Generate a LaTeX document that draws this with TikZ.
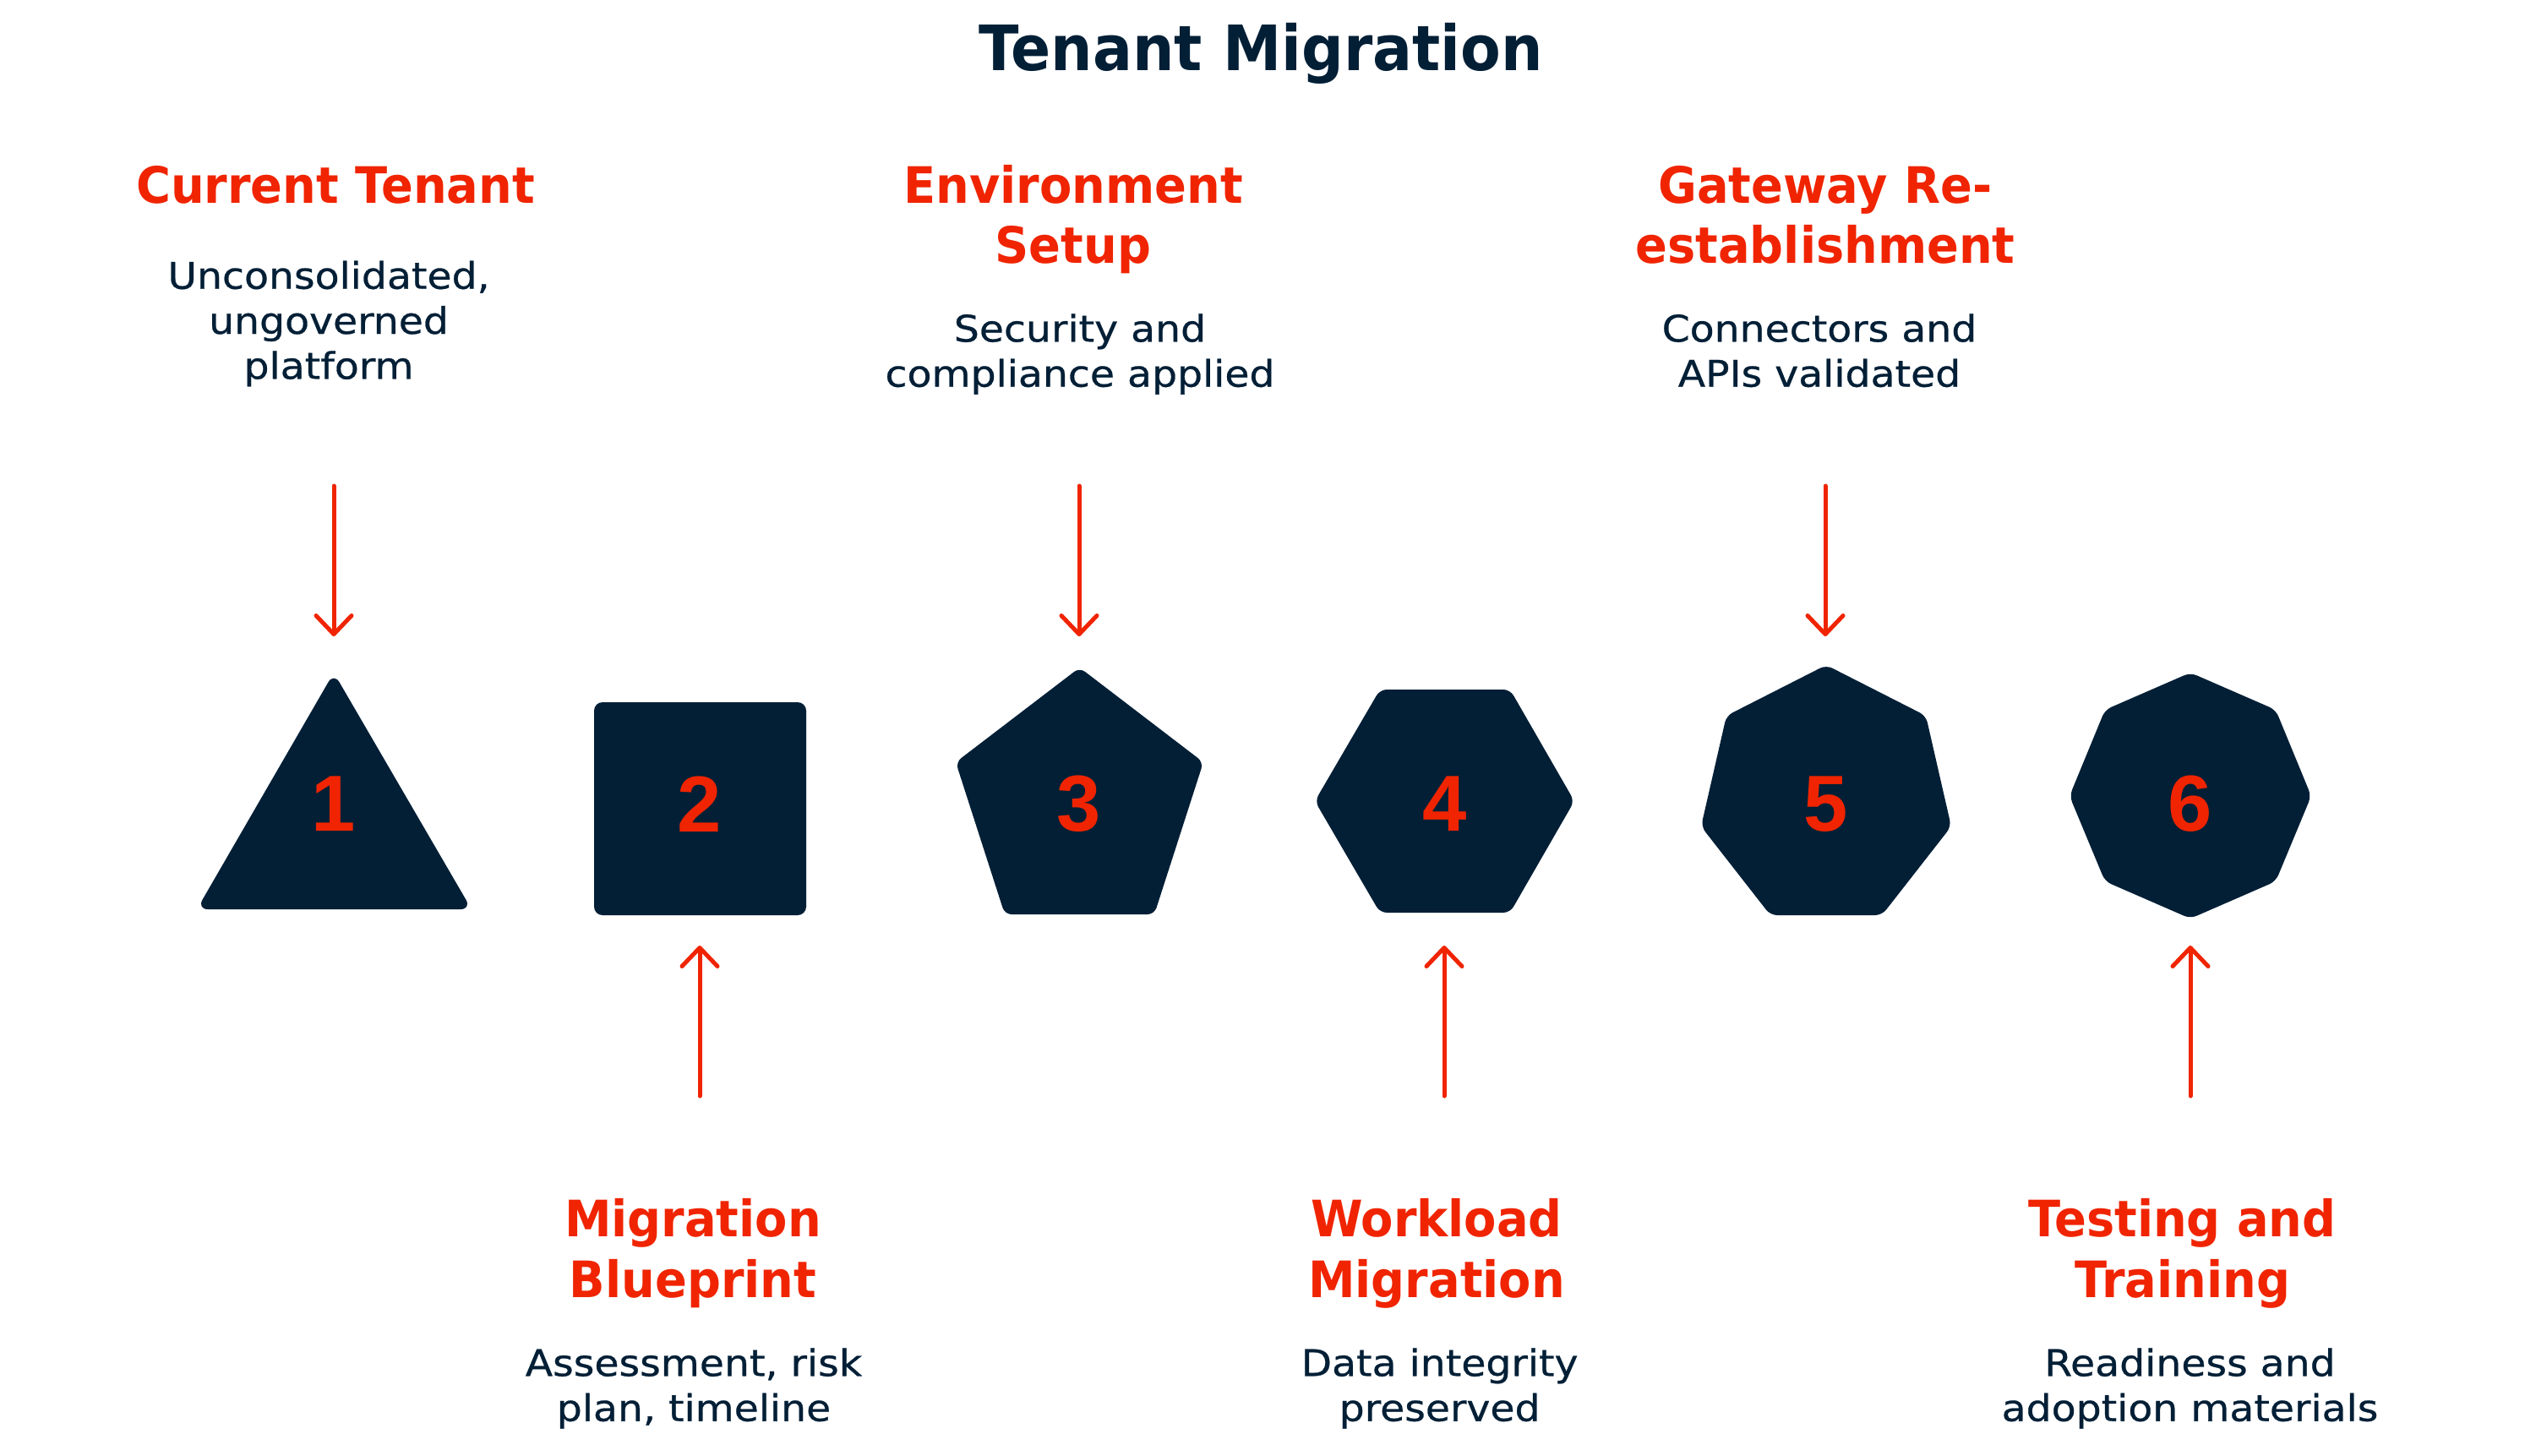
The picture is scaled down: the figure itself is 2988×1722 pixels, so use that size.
\documentclass[tikz,border=0pt]{standalone}
\usepackage{fontspec}
\setmainfont{DejaVu Sans}
\newfontfamily\headf{DejaVu Sans}[FakeStretch=0.94]
\newfontfamily\descf{DejaVu Sans}[FakeStretch=1.09,FakeBold=0.6]
\newfontfamily\numf{Liberation Sans}
\usetikzlibrary{arrows.meta}
\definecolor{navy}{HTML}{021F36}
\definecolor{accent}{HTML}{F02400}
\tikzset{
  shapefill/.style={fill=navy, rounded corners=8pt},
  num/.style={font=\numf\bfseries\fontsize{94}{94}\selectfont, text=accent, inner sep=0pt, anchor=center},
  arr/.style={draw=accent, line width=5pt, line cap=round,
    -{Straight Barb[length=22pt,width=42pt,line cap=round,line join=round]}},
  head/.style={font=\headf\bfseries\fontsize{59.4}{71.7}\selectfont, text=accent, inner sep=0pt, anchor=base},
  desc/.style={font=\descf\fontsize{43.4}{53.3}\selectfont, text=navy, inner sep=0pt, anchor=base},
  ttl/.style={font=\headf\bfseries\fontsize{74}{80}\selectfont, text=navy, inner sep=0pt, anchor=base}
}
\newcommand{\lns}[1]{\begin{tabular}[t]{@{}c@{}}#1\end{tabular}}
\begin{document}
\begin{tikzpicture}[x=1pt,y=-1pt]
\fill[white] (0,0) rectangle (2988,1722);
\path[use as bounding box] (0,0) rectangle (2988,1722);

% title
\node[ttl] (title) at (1492,83.3) {Tenant Migration};

% shapes
\fill[shapefill, rounded corners=13pt] (395,796) -- (558,1076) -- (233,1076) -- cycle;
\fill[shapefill, rounded corners=10pt] (703,831) rectangle (954,1083);
\fill[shapefill] (1277.6,790) -- (1424,902) -- (1366,1082) -- (1189,1082) -- (1131,902) -- cycle;
\fill[shapefill] (1556,948) -- (1633,816) -- (1787,816) -- (1863,948) -- (1787,1080) -- (1633,1080) -- cycle;
\fill[shapefill] (2161,787) -- (2279,847) -- (2309,978) -- (2227,1083) -- (2095,1083) -- (2013,978) -- (2043,847) -- cycle;
\fill[shapefill] (2592,796) -- (2693,840) -- (2735,942) -- (2693,1043) -- (2592,1087) -- (2491,1043) -- (2449,942) -- (2491,840) -- cycle;

% numbers
\node[num] (n1) at (395,951.5) {1};
\node[num] (n2) at (828,951.5) {2};
\node[num] (n3) at (1277,951.5) {3};
\node[num] (n4) at (1710,951.5) {4};
\node[num] (n5) at (2161,951.5) {5};
\node[num] (n6) at (2592,951.5) {6};

% arrows
\coordinate (a1s) at (395,575); \coordinate (a1e) at (395,753);
\coordinate (a3s) at (1277,575); \coordinate (a3e) at (1277,753);
\coordinate (a5s) at (2160,575); \coordinate (a5e) at (2160,753);
\coordinate (a2s) at (828,1297); \coordinate (a2e) at (828,1119);
\coordinate (a4s) at (1709,1297); \coordinate (a4e) at (1709,1119);
\coordinate (a6s) at (2592,1297); \coordinate (a6e) at (2592,1119);
\draw[arr] (a1s) -- (a1e);
\draw[arr] (a3s) -- (a3e);
\draw[arr] (a5s) -- (a5e);
\draw[arr] (a2s) -- (a2e);
\draw[arr] (a4s) -- (a4e);
\draw[arr] (a6s) -- (a6e);

% column 1
\node[head] (h1) at (397,240) {Current Tenant};
\node[desc] (d1) at (389,341.7) {\lns{Unconsolidated,\\ungoverned\\platform}};
% column 3
\node[head] (h3) at (1270,240) {\lns{Environment\\Setup}};
\node[desc] (d3) at (1278,404.3) {\lns{Security and\\compliance applied}};
% column 5
\node[head] (h5) at (2160,240) {\lns{Gateway Re-\\establishment}};
\node[desc] (d5) at (2153,404.3) {\lns{Connectors and\\APIs validated}};
% column 2
\node[head] (h2) at (820,1463.3) {\lns{Migration\\Blueprint}};
\node[desc] (d2) at (821,1628.3) {\lns{Assessment, risk\\plan, timeline}};
% column 4
\node[head] (h4) at (1700,1463.3) {\lns{Workload\\Migration}};
\node[desc] (d4) at (1703.6,1628.3) {\lns{Data integrity\\preserved}};
% column 6
\node[head] (h6) at (2582.6,1463.3) {\lns{Testing and\\Training}};
\node[desc] (d6) at (2591.5,1628.3) {\lns{Readiness and\\adoption materials}};
\end{tikzpicture}
\end{document}
